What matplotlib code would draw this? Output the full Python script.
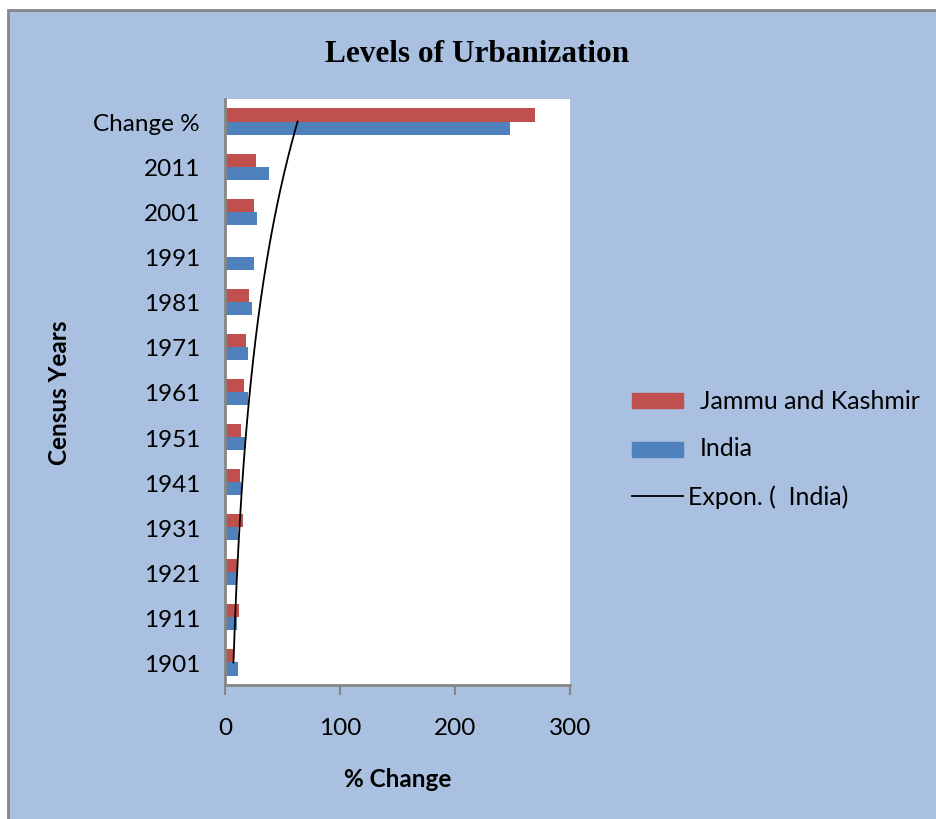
import matplotlib.pyplot as plt
import numpy as np
from matplotlib.lines import Line2D
from matplotlib.patches import Rectangle

# data
years = ['1901', '1911', '1921', '1931', '1941', '1951', '1961',
         '1971', '1981', '1991', '2001', '2011', 'Change %']
jk = [7.2, 11.9, 10.7, 15.4, 13.3, 13.9, 16.2, 18.3, 21.1, np.nan, 25.2, 27.0, 269.5]
india = [11.0, 10.7, 10.1, 11.6, 14.2, 17.4, 20.3, 20.0, 23.5, 25.5, 27.8, 38.0, 248.0]
xticks = [0, 100, 200, 300]

RED = '#C0504D'
BLUE = '#4F81BD'
BG = '#A9C0E0'
GREY = '#868686'

plt.rcParams['font.family'] = ['Lato', 'DejaVu Sans']

fig = plt.figure(figsize=(9.36, 8.2), dpi=100)
fig.patch.set_facecolor('white')
# chart area with grey border
fig.patches.append(Rectangle((8 / 936, -0.05), 1.1, 1 - 11 / 820 + 0.05,
                             transform=fig.transFigure, facecolor=BG,
                             edgecolor=GREY, linewidth=2, zorder=-10))

ax = fig.add_axes([225 / 936, 1 - 686 / 820, 345 / 936, 586 / 820])
ax.set_facecolor('white')

y = np.arange(len(years))
h = 0.29
ax.barh(y + h / 2, jk, height=h, color=RED, label='Jammu and Kashmir')
ax.barh(y - h / 2, india, height=h, color=BLUE, label='India')

# exponential trendline on India
coef = np.polyfit(y + 1, np.log(india), 1)
yy = np.linspace(0, len(years) - 1, 200)
ax.plot(np.exp(np.polyval(coef, yy + 1)), yy, color='black', lw=1.3)

ax.set_xlim(0, 300)
ax.set_ylim(-0.5, len(years) - 0.5)
ax.set_xticks(xticks)
ax.set_yticks(y)
ax.set_yticklabels(years)
ax.tick_params(axis='y', length=0, pad=18, labelsize=17.5)
ax.tick_params(axis='x', length=7, width=1.5, color=GREY, direction='out',
               pad=16, labelsize=17.5)
for s in ['top', 'right']:
    ax.spines[s].set_visible(False)
for s in ['left', 'bottom']:
    ax.spines[s].set_color(GREY)
    ax.spines[s].set_linewidth(2)

fig.text(477 / 936, 1 - 54 / 820, 'Levels of Urbanization', ha='center', va='center',
         fontsize=22.5, fontweight='bold', family='Liberation Serif')
fig.text(60 / 936, 1 - 393 / 820, 'Census Years', ha='center', va='center',
         rotation=90, fontsize=17.5, fontweight='bold')
fig.text(398 / 936, 1 - 780 / 820, '% Change', ha='center', va='center',
         fontsize=17.5, fontweight='bold')

# legend drawn by hand
fig.patches.append(Rectangle((632 / 936, 1 - 409 / 820), 51 / 936, 15 / 820,
                             transform=fig.transFigure, color=RED))
fig.text(700 / 936, 1 - 402 / 820, 'Jammu and Kashmir', va='center', fontsize=18)
fig.patches.append(Rectangle((632 / 936, 1 - 458 / 820), 51 / 936, 15 / 820,
                             transform=fig.transFigure, color=BLUE))
fig.text(700 / 936, 1 - 449 / 820, 'India', va='center', fontsize=18)
fig.lines.append(Line2D([632 / 936, 683 / 936], [1 - 497 / 820, 1 - 497 / 820],
                        transform=fig.transFigure, color='black', lw=1.3))
fig.text(688 / 936, 1 - 497 / 820, 'Expon. (  India)', va='center', fontsize=18)

fig.savefig('out.png', dpi=100, facecolor=fig.get_facecolor())
